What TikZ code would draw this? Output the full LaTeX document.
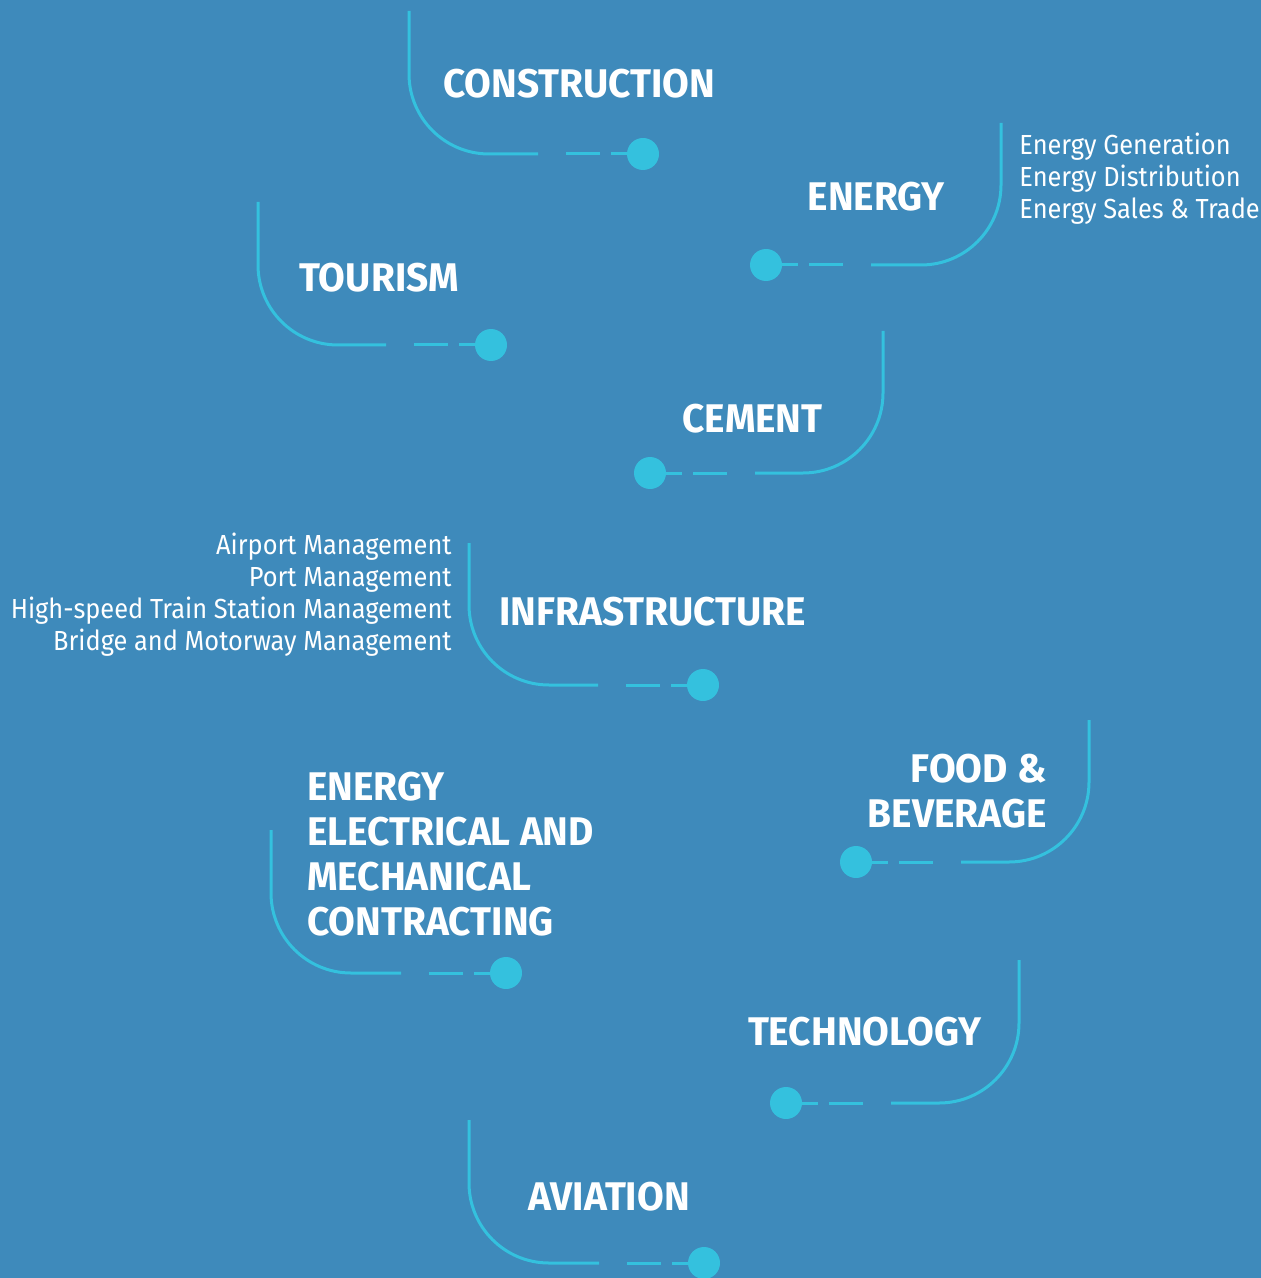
\documentclass[tikz,border=0pt]{standalone}
\usepackage{fontspec}
\setmainfont{Fira Sans}
\newfontfamily\sectorfont[FakeStretch=0.97]{Fira Sans}
\newfontfamily\detailfont[FakeStretch=0.92]{Fira Sans}
\usetikzlibrary{positioning}
\definecolor{bgblue}{RGB}{62,138,187}
\definecolor{trackcyan}{RGB}{52,193,222}
\tikzset{
  track/.style={trackcyan,line width=1.5pt},
  dot/.style={circle,fill=trackcyan,inner sep=0pt,minimum size=16pt},
  sector/.style={text=white,inner sep=0pt,font=\sectorfont\bfseries\fontsize{20}{22.5}\selectfont},
  detail/.style={text=white,inner sep=0pt,font=\detailfont\fontsize{13.8}{16}\selectfont}
}

\begin{document}
\begin{tikzpicture}[line cap=butt,line join=round,x=0.5pt,y=-0.5pt]
\fill[bgblue] (0,0) rectangle (1261,1278);
\useasboundingbox (0,0) rectangle (1261,1278);

% construction
\coordinate (tConstr) at (409,11);
\node[dot] (dConstr) at (643,154) {};
\draw[track,rounded corners=40pt] (tConstr) |- ([xshift=-52.5pt]dConstr.center);
\draw[track] ([xshift=-38.5pt]dConstr.center) -- ([xshift=-21.5pt]dConstr.center);
\draw[track] ([xshift=-16pt]dConstr.center) -- (dConstr);
\node[sector,anchor=base west] (construction) at (443,98) {CONSTRUCTION};

% energy
\coordinate (tEnergy) at (1001,123);
\node[dot] (dEnergy) at (766,265) {};
\draw[track,rounded corners=40pt] (tEnergy) |- ([xshift=52.5pt]dEnergy.center);
\draw[track] ([xshift=38.5pt]dEnergy.center) -- ([xshift=21.5pt]dEnergy.center);
\draw[track] ([xshift=16pt]dEnergy.center) -- (dEnergy);
\node[sector,anchor=base east] (energy) at (945,211) {ENERGY};
\node[detail,anchor=base west,align=left] (energyList) at (1019,219)
  {Energy Generation\\Energy Distribution\\Energy Sales \& Trade};

% tourism
\coordinate (tTourism) at (258,202);
\node[dot] (dTourism) at (491,345) {};
\draw[track,rounded corners=40pt] (tTourism) |- ([xshift=-52.5pt]dTourism.center);
\draw[track] ([xshift=-38.5pt]dTourism.center) -- ([xshift=-21.5pt]dTourism.center);
\draw[track] ([xshift=-16pt]dTourism.center) -- (dTourism);
\node[sector,anchor=base west] (tourism) at (299,292) {TOURISM};

% cement
\coordinate (tCement) at (883,331);
\node[dot] (dCement) at (650,473) {};
\draw[track,rounded corners=40pt] (tCement) |- ([xshift=52.5pt]dCement.center);
\draw[track] ([xshift=38.5pt]dCement.center) -- ([xshift=21.5pt]dCement.center);
\draw[track] ([xshift=16pt]dCement.center) -- (dCement);
\node[sector,anchor=base east] (cement) at (823,432) {CEMENT};

% infrastructure
\coordinate (tInfra) at (469,543);
\node[dot] (dInfra) at (703,685) {};
\draw[track,rounded corners=40pt] (tInfra) |- ([xshift=-52.5pt]dInfra.center);
\draw[track] ([xshift=-38.5pt]dInfra.center) -- ([xshift=-21.5pt]dInfra.center);
\draw[track] ([xshift=-16pt]dInfra.center) -- (dInfra);
\node[sector,anchor=base west] (infra) at (499,625) {INFRASTRUCTURE};
\node[detail,anchor=base east,align=right] (infraList) at (452,650)
  {Airport Management\\Port Management\\High-speed Train Station Management\\Bridge and Motorway Management};

% food & beverage
\coordinate (tFood) at (1089,720);
\node[dot] (dFood) at (856,862) {};
\draw[track,rounded corners=40pt] (tFood) |- ([xshift=52.5pt]dFood.center);
\draw[track] ([xshift=38.5pt]dFood.center) -- ([xshift=21.5pt]dFood.center);
\draw[track] ([xshift=16pt]dFood.center) -- (dFood);
\node[sector,anchor=base east,align=right] (food) at (1047,827) {FOOD \&\\BEVERAGE};

% contracting
\coordinate (tContract) at (271,830);
\node[dot] (dContract) at (506,973) {};
\draw[track,rounded corners=40pt] (tContract) |- ([xshift=-52.5pt]dContract.center);
\draw[track] ([xshift=-38.5pt]dContract.center) -- ([xshift=-21.5pt]dContract.center);
\draw[track] ([xshift=-16pt]dContract.center) -- (dContract);
\node[sector,anchor=base west,align=left] (contract) at (307,935)
  {ENERGY\\ELECTRICAL AND\\MECHANICAL\\CONTRACTING};

% technology
\coordinate (tTech) at (1019,960);
\node[dot] (dTech) at (786,1103) {};
\draw[track,rounded corners=40pt] (tTech) |- ([xshift=52.5pt]dTech.center);
\draw[track] ([xshift=38.5pt]dTech.center) -- ([xshift=21.5pt]dTech.center);
\draw[track] ([xshift=16pt]dTech.center) -- (dTech);
\node[sector,anchor=base east] (tech) at (982,1045) {TECHNOLOGY};

% aviation
\coordinate (tAviation) at (469,1120);
\node[dot] (dAviation) at (704,1263) {};
\draw[track,rounded corners=40pt] (tAviation) |- ([xshift=-52.5pt]dAviation.center);
\draw[track] ([xshift=-38.5pt]dAviation.center) -- ([xshift=-21.5pt]dAviation.center);
\draw[track] ([xshift=-16pt]dAviation.center) -- (dAviation);
\node[sector,anchor=base west] (aviation) at (528,1210) {AVIATION};
\end{tikzpicture}
\end{document}
